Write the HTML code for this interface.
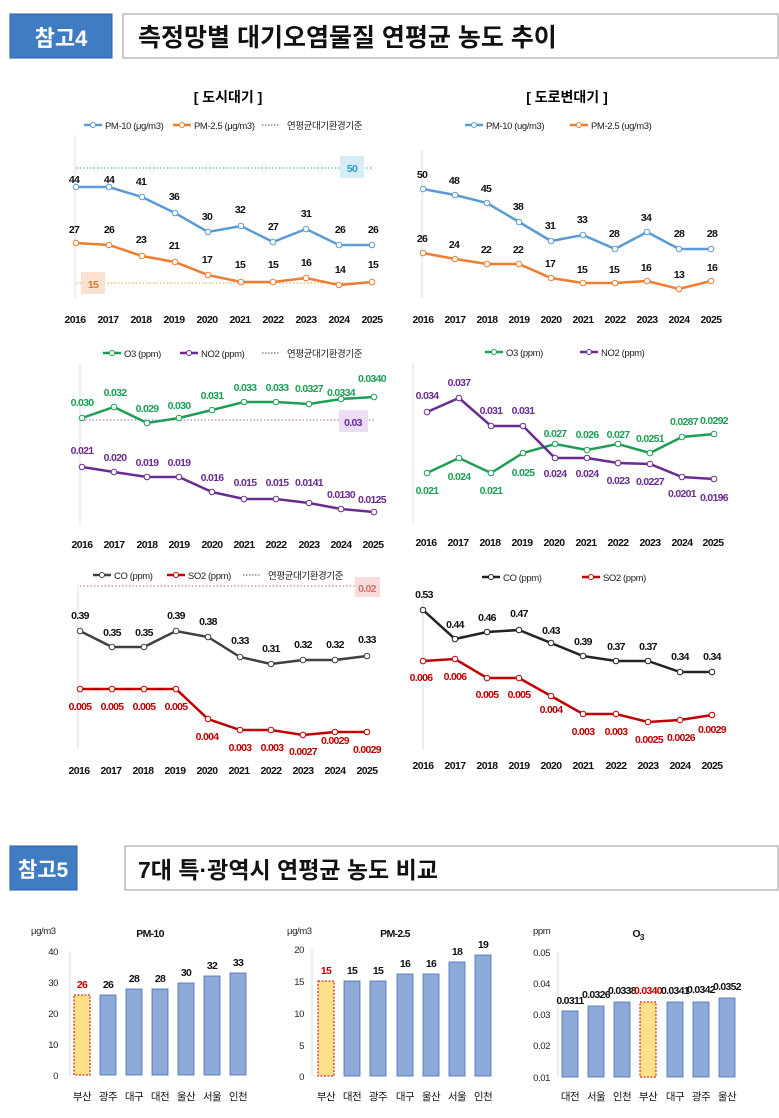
<!DOCTYPE html>
<html><head><meta charset="utf-8"><style>
html,body{margin:0;padding:0;background:#fff}
svg{display:block}
.n{font-family:"Liberation Sans","Noto Sans CJK KR",sans-serif;font-weight:bold;font-size:10.5px;letter-spacing:-0.7px;text-anchor:middle}
.lg{font-family:"Liberation Sans","Noto Sans CJK KR",sans-serif;font-size:9.5px;letter-spacing:-0.4px;fill:#222}
.yr{font-family:"Liberation Sans",sans-serif;font-weight:bold;font-size:10.5px;letter-spacing:-0.6px;text-anchor:middle;fill:#111}
.k{font-family:"Liberation Sans","Noto Sans CJK KR",sans-serif}
</style></head><body>
<svg width="779" height="1118" viewBox="0 0 779 1118" xmlns="http://www.w3.org/2000/svg">
<!-- header 1 -->
<rect x="10" y="14" width="102" height="44" fill="#3f7cc4" stroke="#2d5f9e"/>
<text x="61" y="46" class="k" font-size="22" font-weight="bold" fill="#fff" text-anchor="middle">참고4</text>
<rect x="123" y="14" width="655" height="44" fill="#fff" stroke="#999"/>
<text x="138" y="46" class="k" font-size="25" font-weight="bold" fill="#111">측정망별 대기오염물질 연평균 농도 추이</text>

<!-- TOP LEFT -->
<text x="228" y="102" class="k" font-size="14" font-weight="bold" text-anchor="middle">[ 도시대기 ]</text>
<line x1="84" y1="125" x2="102" y2="125" stroke="#5b9bd5" stroke-width="2.5"/><circle cx="93" cy="125" r="2.5" fill="#fff" stroke="#5b9bd5"/>
<text x="105" y="129" class="lg">PM-10 (μg/m3)</text>
<line x1="173" y1="125" x2="191" y2="125" stroke="#ed7d31" stroke-width="2.5"/><circle cx="182" cy="125" r="2.5" fill="#fff" stroke="#ed7d31"/>
<text x="194" y="129" class="lg">PM-2.5 (μg/m3)</text>
<line x1="262" y1="125" x2="280" y2="125" stroke="#555" stroke-dasharray="1.5,1.5"/>
<text x="287" y="129" class="lg">연평균대기환경기준</text>
<line x1="75" y1="135" x2="75" y2="298" stroke="#ddd"/>
<line x1="76" y1="168" x2="372" y2="168" stroke="#2e9fc7" stroke-dasharray="1.5,2"/>
<rect x="340" y="156" width="24" height="22" fill="#d6ecf6"/><text x="352" y="172" class="n" fill="#2e9fc7">50</text>
<line x1="76" y1="283" x2="372" y2="283" stroke="#d8a040" stroke-dasharray="1.5,2"/>
<rect x="81" y="272" width="24" height="22" fill="#fbe2d0"/><text x="93" y="288" class="n" fill="#d87a30">15</text>
<polyline points="76,187 109,187 142,197 175,213 208,232 241,226 273,242 306,229 339,245 372,245" fill="none" stroke="#5b9bd5" stroke-width="2.5"/>
<g fill="#fff" stroke="#5b9bd5"><circle cx="76" cy="187" r="2.8"/><circle cx="109" cy="187" r="2.8"/><circle cx="142" cy="197" r="2.8"/><circle cx="175" cy="213" r="2.8"/><circle cx="208" cy="232" r="2.8"/><circle cx="241" cy="226" r="2.8"/><circle cx="273" cy="242" r="2.8"/><circle cx="306" cy="229" r="2.8"/><circle cx="339" cy="245" r="2.8"/><circle cx="372" cy="245" r="2.8"/></g>
<polyline points="76,243 109,245 142,256 175,262 208,275 241,282 273,282 306,278 339,285 372,282" fill="none" stroke="#ed7d31" stroke-width="2.5"/>
<g fill="#fff" stroke="#ed7d31"><circle cx="76" cy="243" r="2.8"/><circle cx="109" cy="245" r="2.8"/><circle cx="142" cy="256" r="2.8"/><circle cx="175" cy="262" r="2.8"/><circle cx="208" cy="275" r="2.8"/><circle cx="241" cy="282" r="2.8"/><circle cx="273" cy="282" r="2.8"/><circle cx="306" cy="278" r="2.8"/><circle cx="339" cy="285" r="2.8"/><circle cx="372" cy="282" r="2.8"/></g>
<g class="n" fill="#111">
<text x="74" y="183">44</text><text x="109" y="183">44</text><text x="141" y="185">41</text><text x="174" y="200">36</text><text x="207" y="220">30</text><text x="240" y="213">32</text><text x="273" y="230">27</text><text x="306" y="217">31</text><text x="340" y="233">26</text><text x="373" y="233">26</text>
<text x="74" y="233">27</text><text x="109" y="233">26</text><text x="141" y="243">23</text><text x="174" y="249">21</text><text x="207" y="263">17</text><text x="240" y="268">15</text><text x="273" y="268">15</text><text x="306" y="266">16</text><text x="340" y="273">14</text><text x="373" y="268">15</text></g>
<g class="yr"><text x="75" y="323">2016</text><text x="108" y="323">2017</text><text x="141" y="323">2018</text><text x="174" y="323">2019</text><text x="207" y="323">2020</text><text x="240" y="323">2021</text><text x="273" y="323">2022</text><text x="306" y="323">2023</text><text x="339" y="323">2024</text><text x="372" y="323">2025</text></g>

<!-- TOP RIGHT -->
<text x="567" y="102" class="k" font-size="14" font-weight="bold" text-anchor="middle">[ 도로변대기 ]</text>
<line x1="465" y1="125" x2="483" y2="125" stroke="#5b9bd5" stroke-width="2.5"/><circle cx="474" cy="125" r="2.5" fill="#fff" stroke="#5b9bd5"/>
<text x="486" y="129" class="lg">PM-10 (ug/m3)</text>
<line x1="570" y1="125" x2="588" y2="125" stroke="#ed7d31" stroke-width="2.5"/><circle cx="579" cy="125" r="2.5" fill="#fff" stroke="#ed7d31"/>
<text x="591" y="129" class="lg">PM-2.5 (ug/m3)</text>
<line x1="422" y1="150" x2="422" y2="298" stroke="#ddd"/>
<polyline points="423,189 455,195 487,203 519,222 551,241 583,235 615,249 647,232 679,249 711,249" fill="none" stroke="#5b9bd5" stroke-width="2.5"/>
<g fill="#fff" stroke="#5b9bd5"><circle cx="423" cy="189" r="2.8"/><circle cx="455" cy="195" r="2.8"/><circle cx="487" cy="203" r="2.8"/><circle cx="519" cy="222" r="2.8"/><circle cx="551" cy="241" r="2.8"/><circle cx="583" cy="235" r="2.8"/><circle cx="615" cy="249" r="2.8"/><circle cx="647" cy="232" r="2.8"/><circle cx="679" cy="249" r="2.8"/><circle cx="711" cy="249" r="2.8"/></g>
<polyline points="423,253 455,259 487,264 519,264 551,278 583,283 615,283 647,281 679,289 711,281" fill="none" stroke="#ed7d31" stroke-width="2.5"/>
<g fill="#fff" stroke="#ed7d31"><circle cx="423" cy="253" r="2.8"/><circle cx="455" cy="259" r="2.8"/><circle cx="487" cy="264" r="2.8"/><circle cx="519" cy="264" r="2.8"/><circle cx="551" cy="278" r="2.8"/><circle cx="583" cy="283" r="2.8"/><circle cx="615" cy="283" r="2.8"/><circle cx="647" cy="281" r="2.8"/><circle cx="679" cy="289" r="2.8"/><circle cx="711" cy="281" r="2.8"/></g>
<g class="n" fill="#111">
<text x="422" y="178">50</text><text x="454" y="184">48</text><text x="486" y="192">45</text><text x="518" y="210">38</text><text x="550" y="229">31</text><text x="582" y="223">33</text><text x="614" y="237">28</text><text x="646" y="221">34</text><text x="679" y="237">28</text><text x="712" y="237">28</text>
<text x="422" y="242">26</text><text x="454" y="248">24</text><text x="486" y="253">22</text><text x="518" y="253">22</text><text x="550" y="267">17</text><text x="582" y="273">15</text><text x="614" y="273">15</text><text x="646" y="271">16</text><text x="679" y="278">13</text><text x="712" y="271">16</text></g>
<g class="yr"><text x="423" y="323">2016</text><text x="455" y="323">2017</text><text x="487" y="323">2018</text><text x="519" y="323">2019</text><text x="551" y="323">2020</text><text x="583" y="323">2021</text><text x="615" y="323">2022</text><text x="647" y="323">2023</text><text x="679" y="323">2024</text><text x="711" y="323">2025</text></g>

<!-- MID LEFT -->
<line x1="103" y1="353" x2="121" y2="353" stroke="#1e9e55" stroke-width="2.5"/><circle cx="112" cy="353" r="2.5" fill="#fff" stroke="#1e9e55"/>
<text x="124" y="357" class="lg">O3 (ppm)</text>
<line x1="180" y1="353" x2="198" y2="353" stroke="#6a2c91" stroke-width="2.5"/><circle cx="189" cy="353" r="2.5" fill="#fff" stroke="#6a2c91"/>
<text x="201" y="357" class="lg">NO2 (ppm)</text>
<line x1="262" y1="353" x2="280" y2="353" stroke="#555" stroke-dasharray="1.5,1.5"/>
<text x="287" y="357" class="lg">연평균대기환경기준</text>
<line x1="80" y1="364" x2="80" y2="525" stroke="#ddd"/>
<line x1="82" y1="420" x2="374" y2="420" stroke="#9a60b8" stroke-dasharray="1.5,2"/>
<rect x="339" y="410" width="29" height="22" fill="#ecdcf5"/><text x="353" y="426" class="n" fill="#6a2c91">0.03</text>
<polyline points="82,418 114,407 147,423 179,418 212,410 244,402 276,402 309,404 341,399 374,397" fill="none" stroke="#1e9e55" stroke-width="2.5"/>
<g fill="#fff" stroke="#1e9e55"><circle cx="82" cy="418" r="2.8"/><circle cx="114" cy="407" r="2.8"/><circle cx="147" cy="423" r="2.8"/><circle cx="179" cy="418" r="2.8"/><circle cx="212" cy="410" r="2.8"/><circle cx="244" cy="402" r="2.8"/><circle cx="276" cy="402" r="2.8"/><circle cx="309" cy="404" r="2.8"/><circle cx="341" cy="399" r="2.8"/><circle cx="374" cy="397" r="2.8"/></g>
<polyline points="82,467 114,472 147,477 179,477 212,492 244,499 276,499 309,503 341,509 374,512" fill="none" stroke="#6a2c91" stroke-width="2.5"/>
<g fill="#fff" stroke="#6a2c91"><circle cx="82" cy="467" r="2.8"/><circle cx="114" cy="472" r="2.8"/><circle cx="147" cy="477" r="2.8"/><circle cx="179" cy="477" r="2.8"/><circle cx="212" cy="492" r="2.8"/><circle cx="244" cy="499" r="2.8"/><circle cx="276" cy="499" r="2.8"/><circle cx="309" cy="503" r="2.8"/><circle cx="341" cy="509" r="2.8"/><circle cx="374" cy="512" r="2.8"/></g>
<g class="n" fill="#1e9e55"><text x="82" y="406">0.030</text><text x="115" y="396">0.032</text><text x="147" y="412">0.029</text><text x="179" y="409">0.030</text><text x="212" y="399">0.031</text><text x="245" y="391">0.033</text><text x="277" y="391">0.033</text><text x="309" y="392">0.0327</text><text x="341" y="396">0.0334</text><text x="372" y="382">0.0340</text></g>
<g class="n" fill="#6a2c91"><text x="82" y="454">0.021</text><text x="115" y="461">0.020</text><text x="147" y="466">0.019</text><text x="179" y="466">0.019</text><text x="212" y="481">0.016</text><text x="245" y="486">0.015</text><text x="277" y="486">0.015</text><text x="309" y="486">0.0141</text><text x="341" y="498">0.0130</text><text x="372" y="503">0.0125</text></g>
<g class="yr"><text x="82" y="548">2016</text><text x="114" y="548">2017</text><text x="147" y="548">2018</text><text x="179" y="548">2019</text><text x="212" y="548">2020</text><text x="244" y="548">2021</text><text x="276" y="548">2022</text><text x="309" y="548">2023</text><text x="341" y="548">2024</text><text x="373" y="548">2025</text></g>

<!-- MID RIGHT -->
<line x1="485" y1="352" x2="503" y2="352" stroke="#1e9e55" stroke-width="2.5"/><circle cx="494" cy="352" r="2.5" fill="#fff" stroke="#1e9e55"/>
<text x="506" y="356" class="lg">O3 (ppm)</text>
<line x1="580" y1="352" x2="598" y2="352" stroke="#6a2c91" stroke-width="2.5"/><circle cx="589" cy="352" r="2.5" fill="#fff" stroke="#6a2c91"/>
<text x="601" y="356" class="lg">NO2 (ppm)</text>
<line x1="413" y1="362" x2="413" y2="523" stroke="#ddd"/>
<polyline points="427,473 459,458 491,473 523,453 555,444 587,450 618,444 650,453 682,437 714,434" fill="none" stroke="#1e9e55" stroke-width="2.5"/>
<g fill="#fff" stroke="#1e9e55"><circle cx="427" cy="473" r="2.8"/><circle cx="459" cy="458" r="2.8"/><circle cx="491" cy="473" r="2.8"/><circle cx="523" cy="453" r="2.8"/><circle cx="555" cy="444" r="2.8"/><circle cx="587" cy="450" r="2.8"/><circle cx="618" cy="444" r="2.8"/><circle cx="650" cy="453" r="2.8"/><circle cx="682" cy="437" r="2.8"/><circle cx="714" cy="434" r="2.8"/></g>
<polyline points="427,412 459,398 491,426 523,426 555,458 587,458 618,463 650,464 682,477 714,479" fill="none" stroke="#6a2c91" stroke-width="2.5"/>
<g fill="#fff" stroke="#6a2c91"><circle cx="427" cy="412" r="2.8"/><circle cx="459" cy="398" r="2.8"/><circle cx="491" cy="426" r="2.8"/><circle cx="523" cy="426" r="2.8"/><circle cx="555" cy="458" r="2.8"/><circle cx="587" cy="458" r="2.8"/><circle cx="618" cy="463" r="2.8"/><circle cx="650" cy="464" r="2.8"/><circle cx="682" cy="477" r="2.8"/><circle cx="714" cy="479" r="2.8"/></g>
<g class="n" fill="#1e9e55"><text x="427" y="494">0.021</text><text x="459" y="480">0.024</text><text x="491" y="494">0.021</text><text x="523" y="476">0.025</text><text x="555" y="437">0.027</text><text x="587" y="438">0.026</text><text x="618" y="438">0.027</text><text x="650" y="442">0.0251</text><text x="684" y="425">0.0287</text><text x="714" y="424">0.0292</text></g>
<g class="n" fill="#6a2c91"><text x="427" y="399">0.034</text><text x="459" y="386">0.037</text><text x="491" y="414">0.031</text><text x="523" y="414">0.031</text><text x="555" y="477">0.024</text><text x="587" y="477">0.024</text><text x="618" y="484">0.023</text><text x="650" y="485">0.0227</text><text x="682" y="497">0.0201</text><text x="714" y="501">0.0196</text></g>
<g class="yr"><text x="426" y="546">2016</text><text x="458" y="546">2017</text><text x="490" y="546">2018</text><text x="522" y="546">2019</text><text x="554" y="546">2020</text><text x="586" y="546">2021</text><text x="618" y="546">2022</text><text x="650" y="546">2023</text><text x="682" y="546">2024</text><text x="713" y="546">2025</text></g>

<!-- BOTTOM LEFT -->
<line x1="93" y1="575" x2="111" y2="575" stroke="#404040" stroke-width="2.5"/><circle cx="102" cy="575" r="2.5" fill="#fff" stroke="#404040"/>
<text x="114" y="579" class="lg">CO (ppm)</text>
<line x1="167" y1="575" x2="185" y2="575" stroke="#c00000" stroke-width="2.5"/><circle cx="176" cy="575" r="2.5" fill="#fff" stroke="#c00000"/>
<text x="188" y="579" class="lg">SO2 (ppm)</text>
<line x1="243" y1="575" x2="261" y2="575" stroke="#555" stroke-dasharray="1.5,1.5"/>
<text x="268" y="579" class="lg">연평균대기환경기준</text>
<line x1="78" y1="585" x2="78" y2="750" stroke="#ddd"/>
<line x1="80" y1="586" x2="370" y2="586" stroke="#d06060" stroke-dasharray="1.5,2"/>
<rect x="355" y="577" width="25" height="20" fill="#f8dcdc"/><text x="367" y="592" class="n" fill="#d07070" font-weight="normal">0.02</text>
<polyline points="80,631 112,647 144,647 176,631 208,637 240,657 271,664 303,660 335,660 367,656" fill="none" stroke="#404040" stroke-width="2.5"/>
<g fill="#fff" stroke="#404040"><circle cx="80" cy="631" r="2.8"/><circle cx="112" cy="647" r="2.8"/><circle cx="144" cy="647" r="2.8"/><circle cx="176" cy="631" r="2.8"/><circle cx="208" cy="637" r="2.8"/><circle cx="240" cy="657" r="2.8"/><circle cx="271" cy="664" r="2.8"/><circle cx="303" cy="660" r="2.8"/><circle cx="335" cy="660" r="2.8"/><circle cx="367" cy="656" r="2.8"/></g>
<polyline points="80,689 112,689 144,689 176,689 208,719 240,730 271,730 303,735 335,732 367,732" fill="none" stroke="#c00000" stroke-width="2.5"/>
<g fill="#fff" stroke="#c00000"><circle cx="80" cy="689" r="2.8"/><circle cx="112" cy="689" r="2.8"/><circle cx="144" cy="689" r="2.8"/><circle cx="176" cy="689" r="2.8"/><circle cx="208" cy="719" r="2.8"/><circle cx="240" cy="730" r="2.8"/><circle cx="271" cy="730" r="2.8"/><circle cx="303" cy="735" r="2.8"/><circle cx="335" cy="732" r="2.8"/><circle cx="367" cy="732" r="2.8"/></g>
<g class="n" fill="#111"><text x="80" y="619">0.39</text><text x="112" y="636">0.35</text><text x="144" y="636">0.35</text><text x="176" y="619">0.39</text><text x="208" y="625">0.38</text><text x="240" y="644">0.33</text><text x="271" y="652">0.31</text><text x="303" y="648">0.32</text><text x="335" y="648">0.32</text><text x="367" y="643">0.33</text></g>
<g class="n" fill="#c00000"><text x="80" y="710">0.005</text><text x="112" y="710">0.005</text><text x="144" y="710">0.005</text><text x="176" y="710">0.005</text><text x="207" y="740">0.004</text><text x="240" y="751">0.003</text><text x="272" y="751">0.003</text><text x="303" y="755">0.0027</text><text x="335" y="744">0.0029</text><text x="367" y="753">0.0029</text></g>
<g class="yr"><text x="79" y="774">2016</text><text x="111" y="774">2017</text><text x="143" y="774">2018</text><text x="175" y="774">2019</text><text x="207" y="774">2020</text><text x="239" y="774">2021</text><text x="271" y="774">2022</text><text x="303" y="774">2023</text><text x="335" y="774">2024</text><text x="367" y="774">2025</text></g>

<!-- BOTTOM RIGHT -->
<line x1="482" y1="577" x2="500" y2="577" stroke="#222" stroke-width="2.5"/><circle cx="491" cy="577" r="2.5" fill="#fff" stroke="#222"/>
<text x="503" y="581" class="lg">CO (ppm)</text>
<line x1="582" y1="577" x2="600" y2="577" stroke="#c00000" stroke-width="2.5"/><circle cx="591" cy="577" r="2.5" fill="#fff" stroke="#c00000"/>
<text x="603" y="581" class="lg">SO2 (ppm)</text>
<line x1="423" y1="590" x2="423" y2="750" stroke="#ddd"/>
<polyline points="423,610 455,639 487,632 519,630 551,643 583,656 616,661 648,661 680,672 712,672" fill="none" stroke="#222" stroke-width="2.5"/>
<g fill="#fff" stroke="#222"><circle cx="423" cy="610" r="2.8"/><circle cx="455" cy="639" r="2.8"/><circle cx="487" cy="632" r="2.8"/><circle cx="519" cy="630" r="2.8"/><circle cx="551" cy="643" r="2.8"/><circle cx="583" cy="656" r="2.8"/><circle cx="616" cy="661" r="2.8"/><circle cx="648" cy="661" r="2.8"/><circle cx="680" cy="672" r="2.8"/><circle cx="712" cy="672" r="2.8"/></g>
<polyline points="423,661 455,659 487,678 519,678 551,696 583,714 616,714 648,722 680,720 712,715" fill="none" stroke="#c00000" stroke-width="2.5"/>
<g fill="#fff" stroke="#c00000"><circle cx="423" cy="661" r="2.8"/><circle cx="455" cy="659" r="2.8"/><circle cx="487" cy="678" r="2.8"/><circle cx="519" cy="678" r="2.8"/><circle cx="551" cy="696" r="2.8"/><circle cx="583" cy="714" r="2.8"/><circle cx="616" cy="714" r="2.8"/><circle cx="648" cy="722" r="2.8"/><circle cx="680" cy="720" r="2.8"/><circle cx="712" cy="715" r="2.8"/></g>
<g class="n" fill="#111"><text x="424" y="598">0.53</text><text x="455" y="628">0.44</text><text x="487" y="621">0.46</text><text x="519" y="617">0.47</text><text x="551" y="634">0.43</text><text x="583" y="645">0.39</text><text x="616" y="650">0.37</text><text x="648" y="650">0.37</text><text x="680" y="660">0.34</text><text x="712" y="660">0.34</text></g>
<g class="n" fill="#c00000"><text x="421" y="681">0.006</text><text x="455" y="680">0.006</text><text x="487" y="698">0.005</text><text x="519" y="698">0.005</text><text x="551" y="713">0.004</text><text x="583" y="735">0.003</text><text x="616" y="735">0.003</text><text x="649" y="743">0.0025</text><text x="681" y="741">0.0026</text><text x="712" y="733">0.0029</text></g>
<g class="yr"><text x="423" y="769">2016</text><text x="455" y="769">2017</text><text x="487" y="769">2018</text><text x="519" y="769">2019</text><text x="551" y="769">2020</text><text x="583" y="769">2021</text><text x="616" y="769">2022</text><text x="648" y="769">2023</text><text x="680" y="769">2024</text><text x="712" y="769">2025</text></g>

<!-- header 2 -->
<rect x="10" y="846" width="67" height="44" fill="#3f7cc4" stroke="#2d5f9e"/>
<text x="43" y="877" class="k" font-size="21" font-weight="bold" fill="#fff" text-anchor="middle">참고5</text>
<rect x="125" y="846" width="653" height="44" fill="#fff" stroke="#999"/>
<text x="138" y="878" class="k" font-size="23" font-weight="bold" fill="#111">7대 특·광역시 연평균 농도 비교</text>

<!-- BAR PM-10 -->
<g class="lg" font-size="8.5"><text x="31" y="934">μg/m3</text></g>
<text x="150" y="937" class="n" font-size="12" fill="#111">PM-10</text>
<line x1="70" y1="951" x2="70" y2="1076" stroke="#ddd"/>
<g class="lg" font-size="10" text-anchor="end"><text x="58" y="955">40</text><text x="58" y="986">30</text><text x="58" y="1017">20</text><text x="58" y="1048">10</text><text x="58" y="1079">0</text></g>
<rect x="74" y="995" width="16" height="80" fill="#ffe08a" stroke="#c00000" stroke-dasharray="2,1.5"/>
<g fill="#8eaadb" stroke="#4a6fb0" stroke-width="0.8"><rect x="100" y="995" width="16" height="80"/><rect x="126" y="989" width="16" height="86"/><rect x="152" y="989" width="16" height="86"/><rect x="178" y="983" width="16" height="92"/><rect x="204" y="976" width="16" height="99"/><rect x="230" y="973" width="16" height="102"/></g>
<g class="n" font-weight="normal" font-size="11" fill="#111"><text x="82" y="988" fill="#c00000">26</text><text x="108" y="988">26</text><text x="134" y="982">28</text><text x="160" y="982">28</text><text x="186" y="976">30</text><text x="212" y="969">32</text><text x="238" y="966">33</text></g>
<g class="k" font-size="10.5" text-anchor="middle" fill="#111" letter-spacing="-0.5"><text x="82" y="1100">부산</text><text x="108" y="1100">광주</text><text x="134" y="1100">대구</text><text x="160" y="1100">대전</text><text x="186" y="1100">울산</text><text x="212" y="1100">서울</text><text x="238" y="1100">인천</text></g>

<!-- BAR PM-2.5 -->
<g class="lg" font-size="8.5"><text x="287" y="934">μg/m3</text></g>
<text x="395" y="937" class="n" font-size="12" fill="#111">PM-2.5</text>
<line x1="312" y1="949" x2="312" y2="1076" stroke="#ddd"/>
<g class="lg" font-size="10" text-anchor="end"><text x="304" y="953">20</text><text x="304" y="985">15</text><text x="304" y="1017">10</text><text x="304" y="1049">5</text><text x="304" y="1080">0</text></g>
<rect x="318" y="981" width="16" height="95" fill="#ffe08a" stroke="#c00000" stroke-dasharray="2,1.5"/>
<g fill="#8eaadb" stroke="#4a6fb0" stroke-width="0.8"><rect x="344" y="981" width="16" height="95"/><rect x="370" y="981" width="16" height="95"/><rect x="397" y="974" width="16" height="102"/><rect x="423" y="974" width="16" height="102"/><rect x="449" y="962" width="16" height="114"/><rect x="475" y="955" width="16" height="121"/></g>
<g class="n" font-weight="normal" font-size="11" fill="#111"><text x="326" y="974" fill="#c00000">15</text><text x="352" y="974">15</text><text x="378" y="974">15</text><text x="405" y="967">16</text><text x="431" y="967">16</text><text x="457" y="955">18</text><text x="483" y="948">19</text></g>
<g class="k" font-size="10.5" text-anchor="middle" fill="#111" letter-spacing="-0.5"><text x="326" y="1100">부산</text><text x="352" y="1100">대전</text><text x="378" y="1100">광주</text><text x="405" y="1100">대구</text><text x="431" y="1100">울산</text><text x="457" y="1100">서울</text><text x="483" y="1100">인천</text></g>

<!-- BAR O3 -->
<g class="lg" font-size="8.5"><text x="533" y="934">ppm</text></g>
<text x="638" y="937" class="n" font-size="12" fill="#111">O<tspan font-size="8" dy="3">3</tspan></text>
<line x1="558" y1="952" x2="558" y2="1077" stroke="#ddd"/>
<g class="lg" font-size="10" text-anchor="end"><text x="550" y="956">0.05</text><text x="550" y="987">0.04</text><text x="550" y="1018">0.03</text><text x="550" y="1049">0.02</text><text x="550" y="1081">0.01</text></g>
<g fill="#8eaadb" stroke="#4a6fb0" stroke-width="0.8"><rect x="562" y="1011" width="16" height="66"/><rect x="588" y="1006" width="16" height="71"/><rect x="614" y="1002" width="16" height="75"/><rect x="667" y="1002" width="16" height="75"/><rect x="693" y="1002" width="16" height="75"/><rect x="719" y="998" width="16" height="79"/></g>
<rect x="640" y="1002" width="16" height="75" fill="#ffe08a" stroke="#c00000" stroke-dasharray="2,1.5"/>
<g class="n" font-weight="normal" font-size="8.5" letter-spacing="-0.6" fill="#111"><text x="570" y="1004">0.0311</text><text x="596" y="998">0.0326</text><text x="622" y="994">0.0338</text><text x="648" y="994" fill="#c00000">0.0340</text><text x="675" y="994" font-weight="bold">0.0341</text><text x="701" y="993">0.0342</text><text x="727" y="990">0.0352</text></g>
<g class="k" font-size="10.5" text-anchor="middle" fill="#111" letter-spacing="-0.5"><text x="570" y="1100">대전</text><text x="596" y="1100">서울</text><text x="622" y="1100">인천</text><text x="648" y="1100">부산</text><text x="675" y="1100">대구</text><text x="701" y="1100">광주</text><text x="727" y="1100">울산</text></g>
</svg>
</body></html>
